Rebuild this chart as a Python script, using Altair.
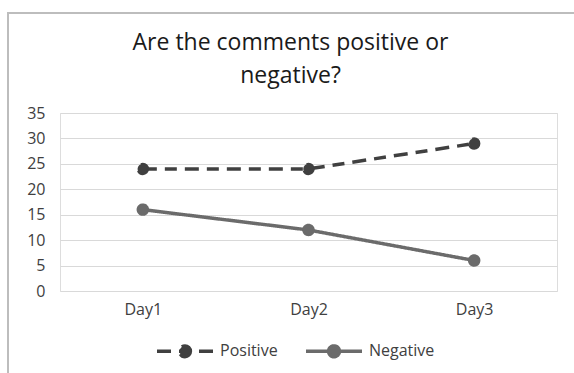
import altair as alt
import pandas as pd

days = ["Day1", "Day2", "Day3"]
positive = [24, 24, 29]
negative = [16, 12, 6]
series_names = ["Positive", "Negative"]
series_colors = ["#404040", "#6b6b6b"]
series_dash = [[14, 8, 12, 8], [1, 0]]
y_ticks = [0, 5, 10, 15, 20, 25, 30, 35]

rows = []
for d, v in zip(days, positive):
    rows.append({"day": d, "series": "Positive", "value": v})
for d, v in zip(days, negative):
    rows.append({"day": d, "series": "Negative", "value": v})
df = pd.DataFrame(rows)

W, H = 497, 178
PAD_L, PAD_T = 60, 113
FONT = "Open Sans"

x_enc = alt.X("day:N", sort=days, title=None,
              scale=alt.Scale(type="point", padding=0.5),
              axis=alt.Axis(labelAngle=0, labelFontSize=16, labelColor="#404040",
                            labelFont=FONT, domain=False, ticks=False,
                            labelPadding=10, grid=False))
y_enc = alt.Y("value:Q", title=None,
              scale=alt.Scale(domain=[0, 35], nice=False),
              axis=alt.Axis(values=y_ticks, labelFontSize=16, labelColor="#404040",
                            labelFont=FONT, domain=False, ticks=False,
                            labelPadding=15, gridColor="#d9d9d9", gridWidth=1))

color_scale = alt.Scale(domain=series_names, range=series_colors)
dash_scale = alt.Scale(domain=series_names, range=series_dash)

legend = alt.Legend(
    title=None, orient="none", direction="horizontal",
    legendX=103, legendY=216,
    symbolType="M-1.4,0L1.4,0M0.27,0A0.27,0.27,0,1,1,-0.27,0A0.27,0.27,0,1,1,0.27,0",
    symbolSize=1600, symbolStrokeWidth=3.5,
    labelFontSize=16, labelColor="#404040", labelFont=FONT,
    labelOffset=13, columnPadding=21,
)

frame = alt.Chart(pd.DataFrame({"k": [0]})).mark_rect(
    fill=None, stroke="#bdbdbd", strokeWidth=2
).encode(
    x=alt.value(8 - PAD_L), x2=alt.value(700),
    y=alt.value(13 - PAD_T), y2=alt.value(400),
)

lines = alt.Chart(df).mark_line(strokeWidth=3.5).encode(
    x=x_enc, y=y_enc,
    color=alt.Color("series:N", scale=color_scale, sort=series_names, legend=legend),
    strokeDash=alt.StrokeDash("series:N", scale=dash_scale, sort=series_names, legend=legend),
)

points = alt.Chart(df).mark_point(filled=True, size=110, opacity=1).encode(
    x=x_enc, y=y_enc,
    color=alt.Color("series:N", scale=color_scale, sort=series_names, legend=legend),
    stroke=alt.Stroke("series:N", scale=color_scale, sort=series_names, legend=legend),
    strokeDash=alt.StrokeDash("series:N", scale=dash_scale, sort=series_names, legend=legend),
)

chart = alt.layer(frame, lines, points).properties(
    width=W, height=H,
    title=alt.TitleParams(
        text=["Are the comments positive or", "negative?"],
        fontSize=23, font=FONT, fontWeight="normal", color="#1a1a1a",
        anchor="middle", frame="group", dx=-18, offset=-76, lineHeight=33,
    ),
    autosize=alt.AutoSizeParams(type="none"),
    padding={"left": PAD_L, "top": PAD_T, "right": 574 - PAD_L - W, "bottom": 373 - PAD_T - H},
).configure_view(stroke=None).configure(background="white")

chart.save("out.html", embed_options={"renderer": "svg", "actions": False})
